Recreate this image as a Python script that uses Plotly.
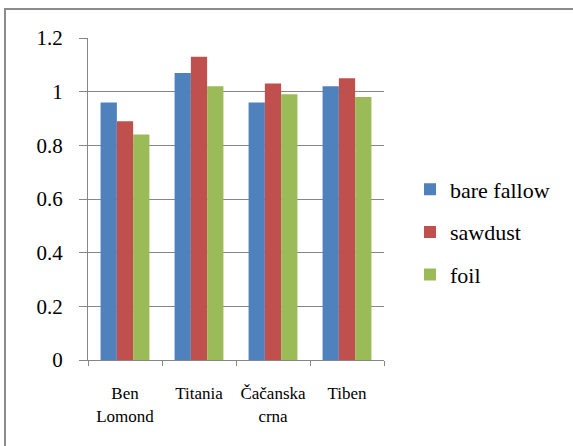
import plotly.graph_objects as go

categories = ["Ben<br>Lomond", "Titania", "Čačanska<br>crna", "Tiben"]
bare_fallow = [0.96, 1.07, 0.96, 1.02]
sawdust = [0.89, 1.13, 1.03, 1.05]
foil = [0.84, 1.02, 0.99, 0.98]
y_ticks = [0, 0.2, 0.4, 0.6, 0.8, 1, 1.2]
y_tick_labels = ["0", "0.2", "0.4", "0.6", "0.8", "1", "1.2"]

series = [
    ("bare fallow", bare_fallow, "#4F81BD"),
    ("sawdust", sawdust, "#C0504D"),
    ("foil", foil, "#9BBB59"),
]

FONT = "Liberation Serif"

fig = go.Figure()
for name, vals, color in series:
    fig.add_trace(go.Bar(
        x=categories, y=vals, name=name, legendgroup=name,
        marker=dict(color=color, line=dict(width=0)),
    ))

W, H = 573, 446
L, R, T, B = 88, 189, 38, 86
pw, ph = W - L - R, H - T - B

def px(x):
    return (x - L) / pw

def py(y):
    return (H - B - y) / ph

frame = "#8C8C8C"
fig.add_shape(type="line", xref="paper", yref="paper",
              x0=px(5), x1=px(5), y0=py(460), y1=py(9),
              line=dict(color=frame, width=2))
fig.add_shape(type="line", xref="paper", yref="paper",
              x0=px(4), x1=px(590), y0=py(9), y1=py(9),
              line=dict(color=frame, width=2))

grid = "#868686"
fig.update_layout(
    width=W, height=H,
    margin=dict(l=L, r=R, t=T, b=B, autoexpand=False),
    paper_bgcolor="white", plot_bgcolor="white",
    font=dict(family=FONT, color="black"),
    barmode="group", bargap=0.34, bargroupgap=0,
    showlegend=True,
    legend=dict(x=px(410), xanchor="left", y=py(232), yanchor="middle",
                font=dict(family=FONT, size=22, color="black"),
                traceorder="grouped", tracegroupgap=11, itemwidth=30),
)
fig.update_xaxes(
    showline=True, linecolor=grid, linewidth=1,
    ticks="outside", tickson="boundaries", ticklen=5, tickcolor=grid,
    tickfont=dict(family=FONT, size=17), ticklabelstandoff=18, tickangle=0,
    showgrid=False,
)
fig.update_yaxes(
    range=[0, 1.2], tickvals=y_ticks, ticktext=y_tick_labels,
    showline=True, linecolor=grid, linewidth=1,
    ticks="outside", ticklen=8, tickcolor=grid,
    tickfont=dict(family=FONT, size=21), ticklabelstandoff=12,
    showgrid=True, gridcolor=grid, gridwidth=1, zeroline=False,
)

fig.write_html("out.html", config={"displayModeBar": False},
               post_script="document.body.style.margin='0';document.body.style.overflow='hidden';")
